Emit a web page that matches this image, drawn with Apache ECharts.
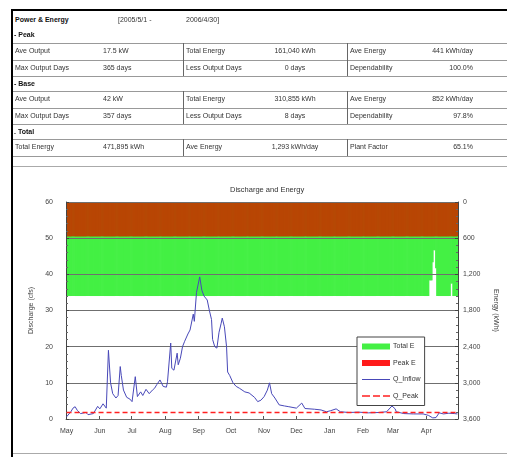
<!DOCTYPE html>
<html>
<head>
<meta charset="utf-8">
<script src="https://cdn.jsdelivr.net/npm/echarts@6/dist/echarts.min.js"></script>
<style>
  body { margin: 0; width: 507px; height: 457px; overflow: hidden; background: #fff;
         font-family: "Liberation Sans", Arial, sans-serif; position: relative; }
  .t { position: absolute; font-size: 7px; color: #333; white-space: nowrap; line-height: 8px; }
  .b { font-weight: bold; color: #111; }
  .hl { position: absolute; left: 12px; width: 500px; height: 0; border-top: 1px solid #999; }
  .vl { position: absolute; width: 0; border-left: 1px solid #666; }
  #chart { position: absolute; left: 0; top: 166px; width: 507px; height: 291px; }
</style>
</head>
<body>
<div id="chart"></div>
<script>
// table text
var headRow = ['Power & Energy', '[2005/5/1 -', '2006/4/30]'];
var peakRows = [
  ['Ave Output', '17.5 kW', 'Total Energy', '161,040 kWh', 'Ave Energy', '441 kWh/day'],
  ['Max Output Days', '365 days', 'Less Output Days', '0 days', 'Dependability', '100.0%']
];
var baseRows = [
  ['Ave Output', '42 kW', 'Total Energy', '310,855 kWh', 'Ave Energy', '852 kWh/day'],
  ['Max Output Days', '357 days', 'Less Output Days', '8 days', 'Dependability', '97.8%']
];
var totalRows = [
  ['Total Energy', '471,895 kWh', 'Ave Energy', '1,293 kWh/day', 'Plant Factor', '65.1%']
];

// chart data
var months = ['May', 'Jun', 'Jul', 'Aug', 'Sep', 'Oct', 'Nov', 'Dec', 'Jan', 'Feb', 'Mar', 'Apr'];
var monthDays = [31, 30, 31, 31, 30, 31, 30, 31, 31, 28, 31, 30];
// [value kWh, number of days]
var totalERuns = [[580, 1], [1560, 337], [1300, 3], [1000, 1], [800, 2], [1100, 1], [1560, 13], [1350, 2], [1560, 5]];
var peakERuns = [[570, 365]];
// [day index, discharge]
var qInflow = [
  [0, 0.6], [4, 2.0], [6, 3.0], [8, 3.4], [10, 2.4], [13, 1.5], [18, 1.8], [20, 1.2], [25, 1.5],
  [29, 3.5], [31, 2.8], [34, 4.2], [37, 3.0], [39, 19], [41, 10], [43, 7], [46, 5.8], [48, 6.5],
  [50, 14.5], [51, 12], [53, 8], [56, 6], [59, 5.5], [61, 4.8], [64, 11.7], [66, 6.2], [69, 7.5],
  [71, 6.5], [74, 8.2], [77, 7], [80, 8], [82, 8.5], [84, 9.5], [87, 10.8], [90, 9], [93, 8.8],
  [94, 10.3], [97, 21], [98, 14], [100, 13.5], [103, 18.2], [104, 15], [106, 16.8], [108, 20],
  [110, 21.5], [113, 23.5], [115, 24.6], [118, 29], [119, 27], [121, 35], [124, 39.3], [126, 35.6],
  [128, 34], [131, 32.9], [133, 30], [135, 27.5], [136, 22], [138, 20], [140, 19.6], [142, 24],
  [144, 26.5], [145, 27.9], [147, 25.5], [149, 20], [150, 13], [152, 12], [155, 10], [158, 9],
  [161, 8.5], [166, 7.5], [170, 7.2], [175, 6], [178, 4.8], [181, 5.2], [184, 6.2], [187, 8],
  [189, 10], [191, 7], [194, 5.8], [198, 3.9], [203, 3.6], [207, 3.4], [214, 3], [219, 4.4],
  [222, 2.9], [231, 2.7], [237, 2.5], [242, 2], [246, 2.3], [251, 2.8], [255, 2.0], [263, 1.8],
  [272, 1.9], [281, 1.7], [291, 1.8], [298, 2.0], [303, 3.6], [306, 2.8], [307, 2.0], [314, 1.5],
  [323, 1.4], [332, 1.4], [337, 1.0], [341, 0.3], [344, 0.4], [347, 1.7], [351, 1.4], [356, 1.6],
  [361, 1.5], [364, 1.4]
];
var qPeak = [[0, 1.8], [364, 1.8]];

function addEl(cls, css, text) {
  var d = document.createElement('div');
  d.className = cls;
  d.style.cssText = css;
  if (text) d.textContent = text;
  document.body.appendChild(d);
  return d;
}
function addText(x, y, text, align, bold) {
  var css = 'top:' + (y - 4) + 'px;';
  if (align == 'right') css += 'right:' + (507 - x) + 'px;';
  else if (align == 'center') css += 'left:' + (x - 60) + 'px;width:120px;text-align:center;';
  else css += 'left:' + x + 'px;';
  addEl('t' + (bold ? ' b' : ''), css, text);
}
function addTable(rows, top) {
  var h = 16.5;
  for (var i = 0; i <= rows.length; i++) {
    addEl('hl', 'top:' + Math.round(top + i * h) + 'px;');
  }
  addEl('vl', 'left:183px;top:' + top + 'px;height:' + Math.round(rows.length * h) + 'px;');
  addEl('vl', 'left:347px;top:' + top + 'px;height:' + Math.round(rows.length * h) + 'px;');
  for (var i = 0; i < rows.length; i++) {
    var y = top + i * h + h / 2;
    var r = rows[i];
    addText(15, y, r[0]);
    addText(103, y, r[1]);
    addText(186, y, r[2]);
    addText(295, y, r[3], 'center');
    addText(350, y, r[4]);
    addText(473, y, r[5], 'right');
  }
}

addText(15, 20, headRow[0], null, true);
addText(118, 20, headRow[1]);
addText(186, 20, headRow[2]);
addText(14, 35, '- Peak', null, true);
addTable(peakRows, 43);
addText(14, 84, '- Base', null, true);
addTable(baseRows, 91);
addText(14, 132, '. Total', null, true);
addTable(totalRows, 139);
addEl('hl', 'top:166px;border-color:#aaa;');
addEl('hl', 'top:453px;border-color:#aaa;');
// frame
addEl('', 'position:absolute;left:11px;top:9px;width:500px;height:0;border-top:2px solid #000;');
addEl('', 'position:absolute;left:11px;top:9px;width:0;height:448px;border-left:2px solid #000;');

function expandRuns(runs) {
  var out = [];
  for (var i = 0; i < runs.length; i++) {
    for (var k = 0; k < runs[i][1]; k++) out.push(runs[i][0]);
  }
  return out;
}

var days = [];
var dayOfMonth = [];
for (var m = 0; m < months.length; m++) {
  for (var d = 1; d <= monthDays[m]; d++) {
    days.push(months[m] + ' ' + d);
    dayOfMonth.push(d);
  }
}
function isMonthStart(i) { return dayOfMonth[i] == 1; }

var chart = echarts.init(document.getElementById('chart'));
var labelFont = { fontSize: 7, color: '#444', fontFamily: 'Liberation Sans' };

var option = {
  animation: false,
  title: {
    text: 'Discharge and Energy',
    left: 225,
    top: 15,
    textStyle: { fontSize: 7.5, fontWeight: 'normal', color: '#333', fontFamily: 'Liberation Sans' }
  },
  grid: { left: 66, right: 47, top: 36, bottom: 38 },
  legend: {
    orient: 'vertical',
    left: 357,
    top: 171,
    padding: [6, 4, 6, 5],
    itemWidth: 28,
    itemHeight: 6,
    itemGap: 9.5,
    borderColor: '#444',
    borderWidth: 1,
    backgroundColor: '#fff',
    z: 10,
    textStyle: { fontSize: 7, color: '#333', fontFamily: 'Liberation Sans', padding: [0, 0, 0, -2] },
    data: [
      { name: 'Total E', icon: 'rect' },
      { name: 'Peak E', icon: 'rect', itemStyle: { color: '#ff1a1a' } },
      { name: 'Q_Inflow', icon: 'path://M0,0L28,0L28,1L0,1Z', itemStyle: { color: '#4848b8' } },
      { name: 'Q_Peak', icon: 'path://M0,0L8,0L8,1.5L0,1.5ZM11,0L18,0L18,1.5L11,1.5ZM21,0L28,0L28,1.5L21,1.5Z', itemStyle: { color: '#ff2020' } }
    ]
  },
  xAxis: {
    type: 'category',
    data: days,
    boundaryGap: true,
    axisLine: { lineStyle: { color: '#777' } },
    axisTick: { show: true, inside: true, length: 3, interval: isMonthStart, lineStyle: { color: '#555' } },
    axisLabel: Object.assign({
      interval: isMonthStart,
      margin: 9,
      formatter: function(v) { return v.split(' ')[0]; }
    }, labelFont),
    splitLine: { show: false }
  },
  yAxis: [{
    type: 'value',
    min: 0,
    max: 60,
    interval: 10,
    position: 'left',
    z: 3,
    name: 'Discharge (cfs)',
    nameLocation: 'middle',
    nameGap: 28,
    nameTextStyle: labelFont,
    axisLine: { show: true, lineStyle: { color: '#444' } },
    axisTick: { show: true, inside: true, length: 3, lineStyle: { color: '#444' } },
    minorTick: { show: true, splitNumber: 5, length: 2, lineStyle: { color: '#666' } },
    axisLabel: Object.assign({ margin: 13 }, labelFont),
    splitLine: { show: true, lineStyle: { color: '#6f6f6f', width: 1 } }
  }, {
    type: 'value',
    min: 0,
    max: 3600,
    interval: 600,
    inverse: true,
    position: 'right',
    z: 3,
    name: 'Energy (kWh)',
    nameLocation: 'middle',
    nameGap: 34,
    nameRotate: -90,
    nameTextStyle: labelFont,
    axisLine: { show: true, lineStyle: { color: '#444' } },
    axisTick: { show: true, inside: true, length: 3, lineStyle: { color: '#444' } },
    minorTick: { show: true, splitNumber: 5, length: 2, lineStyle: { color: '#666' } },
    axisLabel: Object.assign({ margin: 5 }, labelFont),
    splitLine: { show: false }
  }],
  series: [{
    name: 'Total E',
    type: 'bar',
    yAxisIndex: 1,
    barWidth: 1.8,
    barGap: '-100%',
    itemStyle: { color: '#44f044' },
    data: expandRuns(totalERuns)
  }, {
    name: 'Peak E',
    type: 'bar',
    yAxisIndex: 1,
    barWidth: 1.8,
    barGap: '-100%',
    itemStyle: { color: '#b84604' },
    data: expandRuns(peakERuns)
  }, {
    name: 'Q_Inflow',
    type: 'line',
    yAxisIndex: 0,
    symbol: 'none',
    z: 5,
    lineStyle: { color: '#4848b8', width: 1 },
    itemStyle: { color: '#4848b8' },
    data: qInflow
  }, {
    name: 'Q_Peak',
    type: 'line',
    yAxisIndex: 0,
    symbol: 'none',
    z: 5,
    lineStyle: { color: '#ff2020', width: 1.5, type: [5, 3] },
    itemStyle: { color: '#ff2020' },
    data: qPeak
  }]
};
chart.setOption(option);
</script>
</body>
</html>
